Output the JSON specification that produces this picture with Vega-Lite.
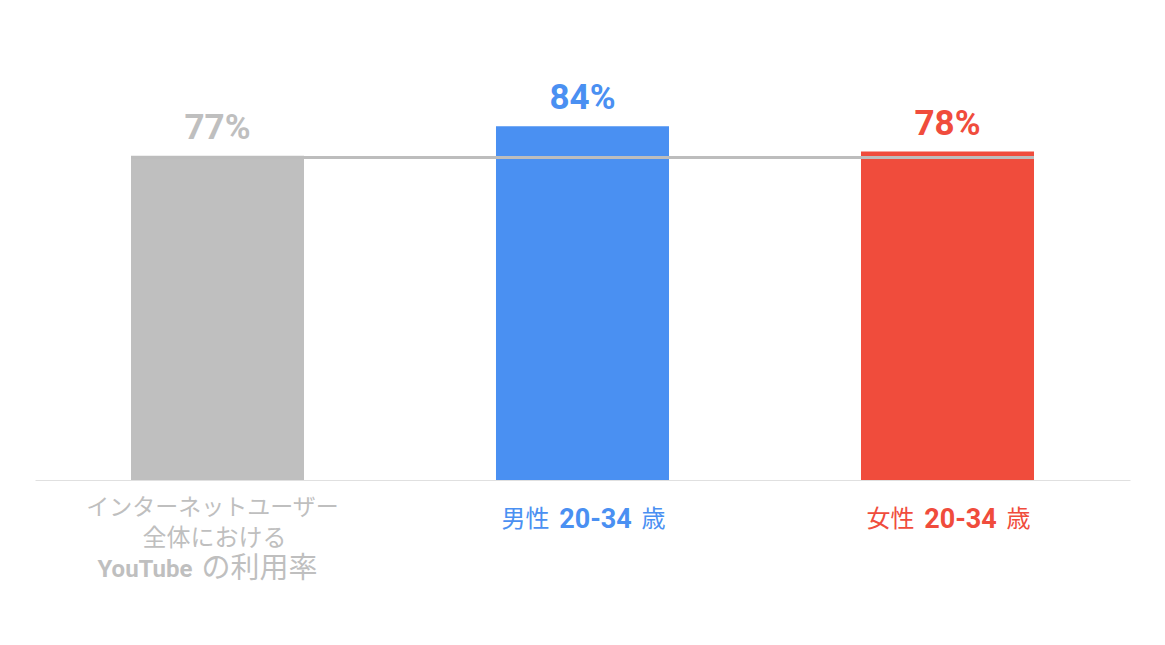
{
  "$schema": "https://vega.github.io/schema/vega-lite/v6.json",
  "width": 1095,
  "height": 421,
  "autosize": "none",
  "padding": {"left": 35, "top": 59, "right": 35, "bottom": 165},
  "background": "white",
  "config": {"view": {"stroke": null}, "font": "Roboto, Noto Sans CJK JP"},
  "datasets": {
    "bars": [
      {"cat": "全体", "value": 77, "label": "77%"},
      {"cat": "男性", "value": 84, "label": "84%"},
      {"cat": "女性", "value": 78, "label": "78%"}
    ],
    "labels": [
      {"cat": "全体", "seg": "l1", "text": "インターネットユーザー"},
      {"cat": "全体", "seg": "l2", "text": "全体における"},
      {"cat": "全体", "seg": "yt", "text": "YouTube"},
      {"cat": "全体", "seg": "rate", "text": "の利用率"},
      {"cat": "男性", "seg": "pre", "text": "男性"},
      {"cat": "男性", "seg": "num", "text": "20-34"},
      {"cat": "男性", "seg": "suf", "text": "歳"},
      {"cat": "女性", "seg": "pre", "text": "女性"},
      {"cat": "女性", "seg": "num", "text": "20-34"},
      {"cat": "女性", "seg": "suf", "text": "歳"}
    ]
  },
  "encoding": {
    "x": {
      "field": "cat", "type": "nominal", "sort": ["全体", "男性", "女性"],
      "scale": {"paddingInner": 0.526, "paddingOuter": 0.263},
      "axis": {"title": null, "labels": false, "ticks": false, "domainColor": "#e0e0e0", "domainWidth": 1}
    },
    "color": {
      "field": "cat", "type": "nominal", "legend": null,
      "scale": {"domain": ["全体", "男性", "女性"], "range": ["#bfbfbf", "#4a90f2", "#f04c3c"]}
    }
  },
  "layer": [
    {
      "data": {"name": "bars"},
      "mark": {"type": "bar"},
      "encoding": {
        "y": {"field": "value", "type": "quantitative", "scale": {"domain": [0, 100]}, "axis": null}
      }
    },
    {
      "data": {"values": [{"v": 76.6}]},
      "mark": {"type": "rule", "color": "#bdbdbd", "strokeWidth": 3},
      "encoding": {
        "x": {"datum": "全体", "bandPosition": 0},
        "x2": {"datum": "女性", "bandPosition": 1},
        "y": {"field": "v", "type": "quantitative"},
        "color": {"value": "#bdbdbd"}
      }
    },
    {
      "data": {"name": "bars"},
      "mark": {"type": "text", "fontWeight": "bold", "fontSize": 35, "baseline": "alphabetic", "dy": -17, "font": "Roboto"},
      "encoding": {
        "y": {"field": "value", "type": "quantitative"},
        "text": {"field": "label"}
      }
    },
    {
      "data": {"name": "labels"},
      "transform": [{"filter": "datum.seg == 'l1'"}],
      "mark": {"type": "text", "fontSize": 23, "baseline": "middle", "dy": 28, "dx": -5},
      "encoding": {"y": {"datum": 0, "type": "quantitative"}, "text": {"field": "text"}}
    },
    {
      "data": {"name": "labels"},
      "transform": [{"filter": "datum.seg == 'l2'"}],
      "mark": {"type": "text", "fontSize": 24, "baseline": "middle", "dy": 59, "dx": -3},
      "encoding": {"y": {"datum": 0, "type": "quantitative"}, "text": {"field": "text"}}
    },
    {
      "data": {"name": "labels"},
      "transform": [{"filter": "datum.seg == 'yt'"}],
      "mark": {"type": "text", "fontSize": 24, "fontWeight": "bold", "baseline": "middle", "align": "right", "dy": 90, "dx": -25},
      "encoding": {"y": {"datum": 0, "type": "quantitative"}, "text": {"field": "text"}}
    },
    {
      "data": {"name": "labels"},
      "transform": [{"filter": "datum.seg == 'rate'"}],
      "mark": {"type": "text", "fontSize": 29, "baseline": "middle", "align": "left", "dy": 89, "dx": -16},
      "encoding": {"y": {"datum": 0, "type": "quantitative"}, "text": {"field": "text"}}
    },
    {
      "data": {"name": "labels"},
      "transform": [{"filter": "datum.seg == 'pre'"}],
      "mark": {"type": "text", "fontSize": 24, "baseline": "middle", "align": "right", "dy": 40, "dx": -33},
      "encoding": {"y": {"datum": 0, "type": "quantitative"}, "text": {"field": "text"}}
    },
    {
      "data": {"name": "labels"},
      "transform": [{"filter": "datum.seg == 'num'"}],
      "mark": {"type": "text", "fontSize": 27, "fontWeight": "bold", "baseline": "middle", "align": "center", "dy": 40, "dx": 13},
      "encoding": {"y": {"datum": 0, "type": "quantitative"}, "text": {"field": "text"}}
    },
    {
      "data": {"name": "labels"},
      "transform": [{"filter": "datum.seg == 'suf'"}],
      "mark": {"type": "text", "fontSize": 24, "baseline": "middle", "align": "left", "dy": 40, "dx": 59},
      "encoding": {"y": {"datum": 0, "type": "quantitative"}, "text": {"field": "text"}}
    }
  ]
}
